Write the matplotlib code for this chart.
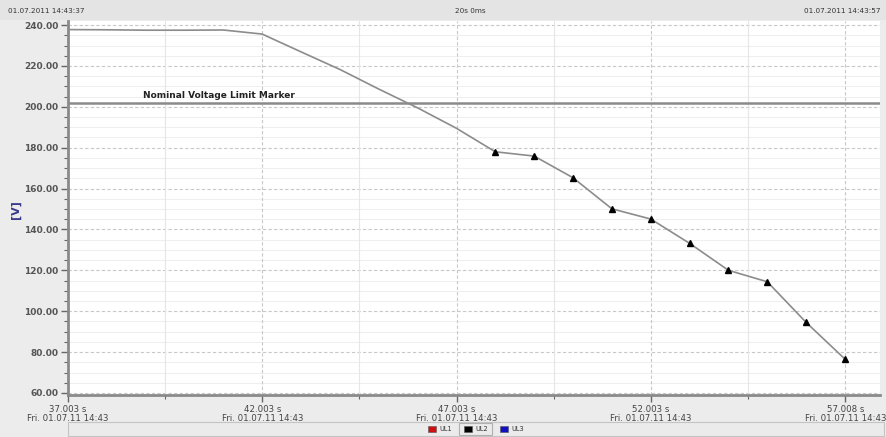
import matplotlib.pyplot as plt
import numpy as np
from matplotlib.patches import Rectangle

# <---------------- Datos ---------------->
t_line = [37.003, 38, 39, 40, 41, 42, 43, 44, 45, 46, 47]
v_line = [237.8, 237.7, 237.5, 237.5, 237.6, 235.6, 226.9, 218.3, 208.7, 199.5, 189.5]
t_mark = [48, 49, 50, 51, 52, 53, 54, 55, 56, 57.008]
v_mark = [178.0, 175.9, 165.3, 150.1, 145.1, 133.2, 120.0, 114.4, 94.5, 76.4]
nominal = 202.0
xticks = [37.003, 42.003, 47.003, 52.003, 57.008]
xlabels = ["37.003 s\nFri. 01.07.11 14:43", "42.003 s\nFri. 01.07.11 14:43",
           "47.003 s\nFri. 01.07.11 14:43", "52.003 s\nFri. 01.07.11 14:43",
           "57.008 s\nFri. 01.07.11 14:43"]
yticks = np.arange(60, 241, 20)
series = ["UL1", "UL2", "UL3"]
series_colors = ["#d01010", "#000000", "#1010c0"]

W, H = 886, 437
fig = plt.figure(figsize=(W/100, H/100), dpi=100)
fig.patch.set_facecolor("#ececec")

# <------ Area de la grafica ------>
ax = fig.add_axes([68/W, 1-395/H, 812/W, 374/H])
ax.set_facecolor("white")
ax.set_xlim(37.003, 57.9)
ax.set_ylim(59, 242)

# rejilla
for y in np.arange(60, 241, 5):
    if y % 20:
        ax.axhline(y, color="#efefef", lw=0.8, zorder=0)
    else:
        ax.axhline(y, color="#c8c8c8", lw=0.8, ls=(0, (3, 2)), zorder=0)
for x in xticks:
    ax.axvline(x, color="#c8c8c8", lw=0.8, ls=(0, (3, 2)), zorder=0)
for x in [39.503, 44.503, 49.503, 54.505]:
    ax.axvline(x, color="#e6e6e6", lw=0.8, zorder=0)

# linea de limite nominal
ax.axhline(nominal, color="#8a8a8a", lw=1.8, zorder=2)
ax.text(38.93, nominal+1.2, "Nominal Voltage Limit Marker", fontsize=6.5,
        fontweight="bold", color="#222222", va="bottom", ha="left")

# serie de voltaje
t_all = t_line + t_mark
v_all = v_line + v_mark
ax.plot(t_all, v_all, color="#8c8c8c", lw=1.2, zorder=3)
ax.plot(t_mark, v_mark, ls="none", marker="^", color="black", ms=5, zorder=4)

# ejes
for s in ["top", "right"]:
    ax.spines[s].set_visible(False)
for s in ["left", "bottom"]:
    ax.spines[s].set_color("#8a8a8a")
    ax.spines[s].set_linewidth(2)
ax.set_yticks(yticks)
ax.set_yticklabels(["%.2f" % y for y in yticks], fontsize=6.5,
                   fontweight="bold", color="#555555")
ax.set_yticks(np.arange(60, 241, 5), minor=True)
ax.set_xticks(xticks)
ax.set_xticklabels(xlabels, fontsize=6.2, color="#444444", linespacing=1.1)
ax.set_xticks([39.503, 44.503, 49.503, 54.505], minor=True)
ax.tick_params(which="major", length=5, width=1, color="#666666", pad=2)
ax.tick_params(which="minor", length=3, width=0.8, color="#666666")
fig.text(16/W, 1-210/H, "[V]", fontsize=8, fontweight="bold", color="#3a3a8c",
         rotation=90, ha="center", va="center")

# <------ Encabezado ------>
fig.patches.append(Rectangle((0, 1-20/H), 1, 20/H, transform=fig.transFigure,
                             facecolor="#e4e4e4", edgecolor="none", zorder=0))
fig.text(8/W, 1-11/H, "01.07.2011 14:43:37", fontsize=5.2, color="#333333",
         va="center", ha="left")
fig.text(470/W, 1-11/H, "20s 0ms", fontsize=5.2, color="#333333",
         va="center", ha="center")
fig.text(880/W, 1-11/H, "01.07.2011 14:43:57", fontsize=5.2, color="#333333",
         va="center", ha="right")

# <------ Leyenda ------>
fig.patches.append(Rectangle((68/W, 1-436/H), 816/W, 14/H, transform=fig.transFigure,
                             facecolor="#ebebeb", edgecolor="#c4c4c4", lw=0.8))
fig.patches.append(Rectangle((459/W, 1-435/H), 33/W, 12/H, transform=fig.transFigure,
                             facecolor="none", edgecolor="#b0b0b0", lw=0.8))
x0 = 428
for name, col in zip(series, series_colors):
    fig.patches.append(Rectangle((x0/W, 1-432/H), 8/W, 6/H, transform=fig.transFigure,
                                 facecolor=col, edgecolor="#555555", lw=0.4))
    fig.text((x0+11)/W, 1-429/H, name, fontsize=4.8, color="#333333",
             va="center", ha="left")
    x0 += 36

fig.savefig("out.png", dpi=100, facecolor=fig.get_facecolor())
